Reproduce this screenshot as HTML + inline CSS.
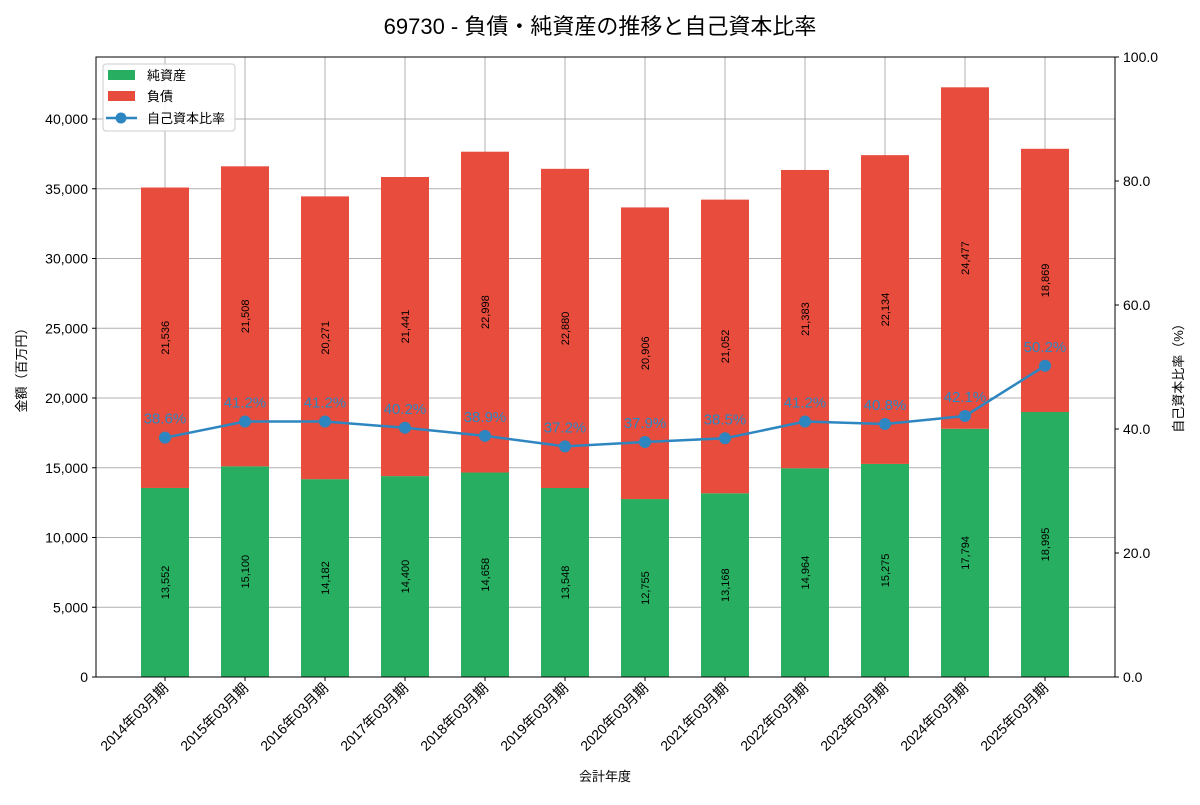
<!DOCTYPE html>
<html><head><meta charset="utf-8"><style>
body{margin:0;background:#fff;font-family:"Liberation Sans","Noto Sans CJK JP",sans-serif}
svg text{font-family:"Liberation Sans","Noto Sans CJK JP",sans-serif}
</style></head><body>
<svg id="c" width="1200" height="800" xmlns="http://www.w3.org/2000/svg"></svg>
<script>
const categories=["2014年03月期","2015年03月期","2016年03月期","2017年03月期","2018年03月期","2019年03月期","2020年03月期","2021年03月期","2022年03月期","2023年03月期","2024年03月期","2025年03月期"];
const equity=[13552,15100,14182,14400,14658,13548,12755,13168,14964,15275,17794,18995];
const liabilities=[21536,21508,20271,21441,22998,22880,20906,21052,21383,22134,24477,18869];
const ratio=[38.6,41.2,41.2,40.2,38.9,37.2,37.9,38.5,41.2,40.8,42.1,50.2];
const leftTicks=[0,5000,10000,15000,20000,25000,30000,35000,40000];
const rightTicks=[0,20,40,60,80,100];
const L=96,R=1115,T=57,B=677;
const xs=i=>165+80*i;
const yL=v=>B-v*(558/40000);
const yR=v=>B-v*(B-T)/100;
const svg=document.getElementById('c');
const NS='http://www.w3.org/2000/svg';
function mk(tag,attrs,txt){const e=document.createElementNS(NS,tag);for(const k in attrs)e.setAttribute(k,attrs[k]);if(txt!==undefined)e.textContent=txt;svg.appendChild(e);return e;}
const fmt=v=>v.toLocaleString('en-US');
// grid
categories.forEach((c,i)=>{const g=mk('line',{x1:xs(i),x2:xs(i),y1:T,y2:B,stroke:'#b0b0b0','stroke-width':1});

});
leftTicks.forEach(v=>{const g=mk('line',{x1:L,x2:R,y1:yL(v),y2:yL(v),stroke:'#b0b0b0','stroke-width':1});


const t=mk('text',{x:L-8,y:yL(v)+5,'text-anchor':'end','font-size':14},fmt(v));


mk('line',{x1:L-4,x2:L,y1:yL(v),y2:yL(v),stroke:'#000'});});
rightTicks.forEach(v=>{const t=mk('text',{x:R+8,y:yR(v)+5,'font-size':14},v.toFixed(1));


mk('line',{x1:R,x2:R+4,y1:yR(v),y2:yR(v),stroke:'#000'});});
// bars
categories.forEach((c,i)=>{
const x=xs(i)-24;
const b1=mk('rect',{x:x,y:yL(equity[i]),width:48,height:B-yL(equity[i]),fill:'#27ae60'});


const b2=mk('rect',{x:x,y:yL(equity[i]+liabilities[i]),width:48,height:yL(equity[i])-yL(equity[i]+liabilities[i]),fill:'#e74c3c'});


const cy1=yL(equity[i]/2),cy2=yL(equity[i]+liabilities[i]/2);
const t1=mk('text',{x:xs(i)+4,y:cy1,'font-size':11,'text-anchor':'middle',transform:`rotate(-90 ${xs(i)+4} ${cy1})`},fmt(equity[i]));


const t2=mk('text',{x:xs(i)+4,y:cy2,'font-size':11,'text-anchor':'middle',transform:`rotate(-90 ${xs(i)+4} ${cy2})`},fmt(liabilities[i]));


mk('line',{x1:xs(i),x2:xs(i),y1:B,y2:B+4,stroke:'#000'});
const tl=mk('text',{x:xs(i)+4,y:B+12,'font-size':14,'text-anchor':'end',transform:`rotate(-45 ${xs(i)+4} ${B+12})`},c);


});
// line
const ln=mk('polyline',{points:ratio.map((v,i)=>xs(i)+','+yR(v)).join(' '),fill:'none',stroke:'#2e86c1','stroke-width':2.5});


ratio.forEach((v,i)=>{const p=mk('circle',{cx:xs(i),cy:yR(v),r:6,fill:'#2e86c1'});


const t=mk('text',{x:xs(i),y:yR(v)-14,'font-size':15,'text-anchor':'middle',fill:'#2e86c1'},v.toFixed(1)+'%');

});
// frame
mk('rect',{x:L,y:T,width:R-L,height:B-T,fill:'none',stroke:'#000','stroke-width':1});
// titles
const ti=mk('text',{x:600,y:34,'font-size':22,'text-anchor':'middle'},'69730 - 負債・純資産の推移と自己資本比率');

const xt=mk('text',{x:605,y:781,'font-size':13,'text-anchor':'middle'},'会計年度');

const yt=mk('text',{x:26,y:367,'font-size':13,'text-anchor':'middle',transform:'rotate(-90 26 367)'},'金額（百万円）');

const y2=mk('text',{x:1183,y:375,'font-size':13,'text-anchor':'middle',transform:'rotate(-90 1183 375)'},'自己資本比率（%）');

// legend
const lg=mk('rect',{x:103,y:64,width:132,height:67,fill:'#fff','fill-opacity':0.85,stroke:'#ccc',rx:3});

mk('rect',{x:108,y:70,width:27,height:10,fill:'#27ae60'});
mk('text',{x:147,y:80,'font-size':13},'純資産');
mk('rect',{x:108,y:91,width:27,height:10,fill:'#e74c3c'});
mk('text',{x:147,y:101,'font-size':13},'負債');
mk('line',{x1:106,x2:137,y1:118,y2:118,stroke:'#2e86c1','stroke-width':2.5});
mk('circle',{cx:121,cy:118,r:5.5,fill:'#2e86c1'});
mk('text',{x:147,y:123,'font-size':13},'自己資本比率');
</script>
</body></html>
